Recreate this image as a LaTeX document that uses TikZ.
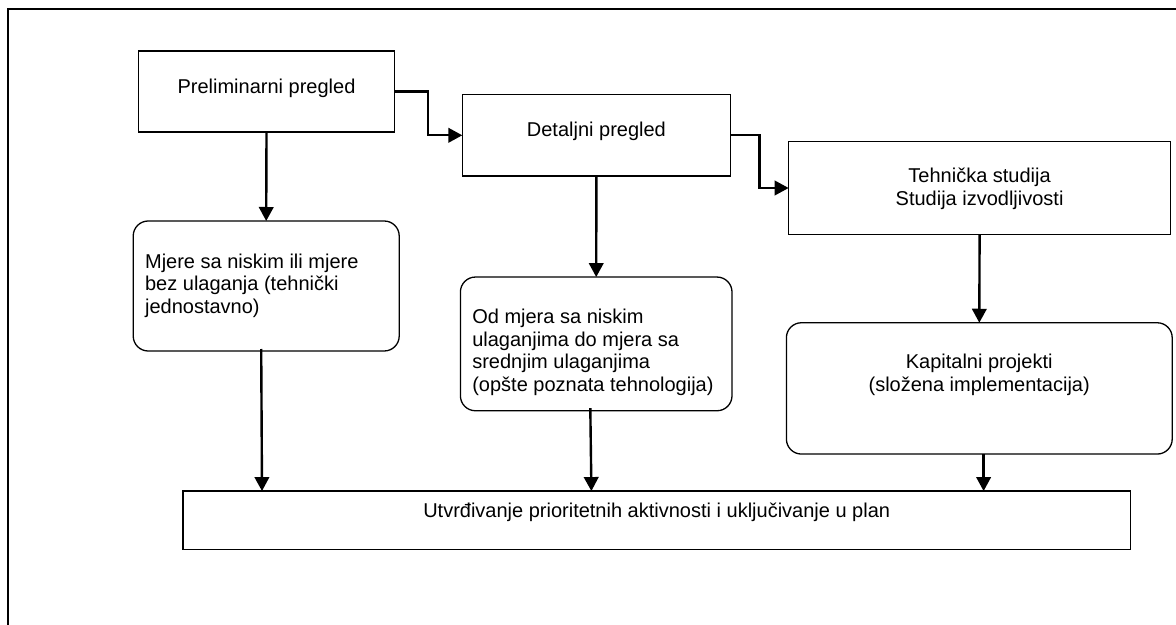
\documentclass[tikz,border=0pt]{standalone}
\usepackage{fontspec}
\setmainfont{Liberation Sans}
\usetikzlibrary{arrows.meta,calc}
\begin{document}
\begin{tikzpicture}[x=0.5pt,y=-0.5pt,
  box/.style={draw=black,line width=0.65pt,inner sep=0pt,outer sep=0pt},
  rbox/.style={box,rounded corners=7.5pt},
  txt/.style={inner sep=0pt,font=\fontsize{10pt}{11.35pt}\selectfont},
  arr/.style={line width=1.2pt,-{Triangle[length=7pt,width=7.25pt]}},
  frame/.style={draw=black,line width=0.65pt}]
\useasboundingbox (0,0) rectangle (1176,625);
% frame
\draw[frame] (8,625) -- (8,9) -- (1176,9);
% boxes
\node[box,minimum width=128pt,minimum height=40.5pt] (A) at (266.5,91.5) {};
\node[box,minimum width=134.1pt,minimum height=40.65pt] (B) at (596.4,135.3) {};
\node[box,minimum width=190.95pt,minimum height=46.3pt] (C) at (979.6,188) {};
\node[rbox,minimum width=133pt,minimum height=65pt] (D) at (266.2,286) {};
\node[rbox,minimum width=135.8pt,minimum height=66.85pt] (E) at (596.2,343.9) {};
\node[rbox,minimum width=192.9pt,minimum height=65.65pt] (F) at (979.3,388.4) {};
\node[box,minimum width=473.75pt,minimum height=29.15pt] (G) at (656.7,520.2) {};
% texts
\node[txt,anchor=base] (tA) at (266.5,93.5) {Preliminarni pregled};
\node[txt,anchor=base] (tB) at (596.4,137) {Detaljni pregled};
\node[txt,anchor=base] (tC1) at (979.6,182.7) {Tehnička studija};
\node[txt,anchor=base] (tC2) at (979.6,206) {Studija izvodljivosti};
\node[txt,anchor=base west] (tD1) at (144.7,268.3) {Mjere sa niskim ili mjere};
\node[txt,anchor=base west] (tD2) at (144.7,291) {bez ulaganja (tehnički};
\node[txt,anchor=base west] (tD3) at (144.7,313.7) {jednostavno)};
\node[txt,anchor=base west] (tE1) at (471.9,323.2) {Od mjera sa niskim};
\node[txt,anchor=base west] (tE2) at (471.9,346) {ulaganjima do mjera sa};
\node[txt,anchor=base west] (tE3) at (471.9,368.6) {srednjim ulaganjima};
\node[txt,anchor=base west] (tE4) at (471.9,391) {(opšte poznata tehnologija)};
\node[txt,anchor=base] (tF1) at (979.2,368.5) {Kapitalni projekti};
\node[txt,anchor=base] (tF2) at (979.2,391.5) {(složena implementacija)};
\node[txt,anchor=base] (tG) at (656.7,517) {Utvrđivanje prioritetnih aktivnosti i uključivanje u plan};
% connectors
\draw[arr] (A.east) -- ++(33.3,0) |- (B.west);
\draw[arr] (B.east) -- ++(28.9,0) |- (C.west);
\draw[arr] (A.south) -- (D.north);
\draw[arr] (B.south) -- (E.north);
\draw[arr] (C.south) -- (F.north);
\draw[arr] ($(D.south)+(-5,-2)$) -- ($(D.south |- G.north)+(-4.2,0)$);
\draw[arr] ($(E.south)+(-5.9,-2.7)$) -- ($(E.south |- G.north)+(-4.8,0)$);
\draw[arr] ($(F.south)+(4.3,0)$) -- ($(F.south |- G.north)+(4.3,0)$);
\end{tikzpicture}
\end{document}
